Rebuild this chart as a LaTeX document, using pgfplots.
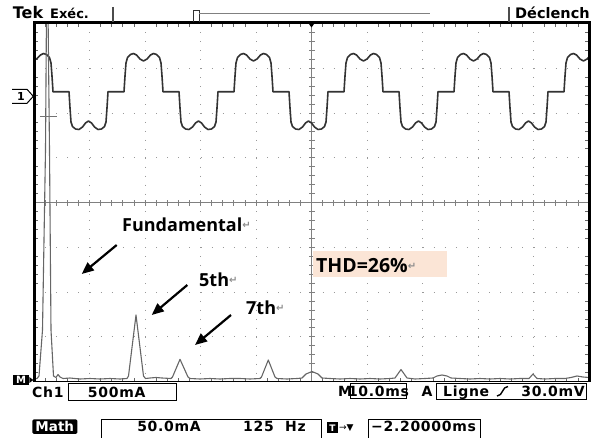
\documentclass[border=0pt]{standalone}
\usepackage{pgfplots}
\pgfplotsset{compat=1.18}
\usepackage{fontspec}
\usetikzlibrary{arrows.meta}
\newfontfamily\scopefont{DejaVu Sans}[LetterSpace=5]
\newfontfamily\tekfont{DejaVu Sans}
\newfontfamily\annfont{Open Sans}
\newfontfamily\symfont{DejaVu Sans}
\definecolor{peach}{HTML}{FBE5D6}
\newcommand{\ret}{{\symfont\fontsize{10}{10}\selectfont\color{black!45}\raisebox{3pt}{↵}}}
\begin{document}
\begin{tikzpicture}
\path[use as bounding box] (0pt,0pt) rectangle (592pt,439pt);
\begin{axis}[
  at={(34pt,57.5pt)}, anchor=south west,
  width=555pt, height=358pt, scale only axis,
  xmin=34, xmax=589, ymin=23.5, ymax=381.5, y dir=reverse,
  xtick={34,89.5,...,589}, ytick={23.5,68.25,...,381.5},
  minor x tick num=4, minor y tick num=4,
  xticklabels={}, yticklabels={},
  major tick length=0pt, minor tick length=4pt, tick align=inside,
  xtick pos=both, ytick pos=both,
  minor tick style={black!60, line width=0.7pt},
  grid=major,
  x grid style={black!40, line width=1pt, dash pattern=on 1pt off 7.95pt},
  y grid style={black!40, line width=1pt, dash pattern=on 1pt off 10.1pt},
  axis line style={draw=none},
]
% centre graticule lines with ticks
\draw[black!50, line width=0.7pt] (axis cs:311.5,23.5) -- (axis cs:311.5,381.5);
\draw[black!50, line width=0.7pt] (axis cs:34,202.5) -- (axis cs:589,202.5);
\draw[black!50, line width=6pt, dash pattern=on 0.7pt off 8.25pt, dash phase=0.35pt] (axis cs:311.5,23.5) -- (axis cs:311.5,381.5);
\draw[black!50, line width=6pt, dash pattern=on 0.7pt off 10.4pt, dash phase=0.35pt] (axis cs:34,202.5) -- (axis cs:589,202.5);
% THD box
\fill[peach] (axis cs:313.3,250.7) rectangle (axis cs:446.7,276.7);
% time-domain current
\addplot[black!80, line width=1.6pt, line join=round] coordinates {
(34,60.5) (37,58.5) (40.5,55) (43.5,53.5) (46.5,54.5) (49.5,57.5) (51,63) (52,76) (53,91.7)
(69,91.7) (70,108) (71,122) (72.5,126.5) (75.5,129) (79,129.5) (82.5,127) (85.5,123) (88.5,121) (91.5,123) (94.5,127) (98,129.5) (101.5,129) (104.5,126.5) (106,122) (107,108) (108,91.7)
(124,91.7) (125,76) (126,63) (127.5,57.5) (130.5,54.5) (133.5,53.5) (136.5,55) (140,59) (143.5,61) (147,59) (150.5,55) (153.5,53.5) (156.5,54.5) (159.5,57.5) (161,63) (162,76) (163,91.7)
(179,91.7) (180,108) (181,122) (182.5,126.5) (185.5,129) (189,129.5) (192.5,127) (195.5,123) (198.5,121) (201.5,123) (204.5,127) (208,129.5) (211.5,129) (214.5,126.5) (216,122) (217,108) (218,91.7)
(234,91.7) (235,76) (236,63) (237.5,57.5) (240.5,54.5) (243.5,53.5) (246.5,55) (250,59) (253.5,61) (257,59) (260.5,55) (263.5,53.5) (266.5,54.5) (269.5,57.5) (271,63) (272,76) (273,91.7)
(289,91.7) (290,108) (291,122) (292.5,126.5) (295.5,129) (299,129.5) (302.5,127) (305.5,123) (308.5,121) (311.5,123) (314.5,127) (318,129.5) (321.5,129) (324.5,126.5) (326,122) (327,108) (328,91.7)
(344,91.7) (345,76) (346,63) (347.5,57.5) (350.5,54.5) (353.5,53.5) (356.5,55) (360,59) (363.5,61) (367,59) (370.5,55) (373.5,53.5) (376.5,54.5) (379.5,57.5) (381,63) (382,76) (383,91.7)
(399,91.7) (400,108) (401,122) (402.5,126.5) (405.5,129) (409,129.5) (412.5,127) (415.5,123) (418.5,121) (421.5,123) (424.5,127) (428,129.5) (431.5,129) (434.5,126.5) (436,122) (437,108) (438,91.7)
(454,91.7) (455,76) (456,63) (457.5,57.5) (460.5,54.5) (463.5,53.5) (466.5,55) (470,59) (473.5,61) (477,59) (480.5,55) (483.5,53.5) (486.5,54.5) (489.5,57.5) (491,63) (492,76) (493,91.7)
(509,91.7) (510,108) (511,122) (512.5,126.5) (515.5,129) (519,129.5) (522.5,127) (525.5,123) (528.5,121) (531.5,123) (534.5,127) (538,129.5) (541.5,129) (544.5,126.5) (546,122) (547,108) (548,91.7)
(564,91.7) (565,76) (566,63) (567.5,57.5) (570.5,54.5) (573.5,53.5) (576.5,55) (580,59) (583.5,61) (587,59) (589,57)
};
% FFT (Math) trace
\addplot[black!60, line width=1.1pt, line join=round] coordinates {
(34,379) (37,378.5) (39,376) (42.5,330) (45.5,150) (46.5,10) (48,10) (49.5,150) (51,330) (53.5,376) (56,377.5) (58,374.5) (60,377) (63,378.5) (70,378) (80,379) (90,378.5) (100,379) (110,378.5) (120,379) (127,378.5) (128.5,376) (136,315) (143.5,376) (145.5,378.5) (150,378) (156,377.5) (162,378) (171,378.5) (172.5,377) (180,359.3) (188,377) (190,378.5) (200,379) (210,378.5) (220,379) (230,378.5) (240,378.5) (250,379) (260,378.5) (261.5,377) (268.3,360) (275,377) (277,378.5) (287,379) (297,378.5) (302,378) (306,374) (312,371.5) (318,374) (322,378) (330,378.5) (340,379) (350,378.5) (360,379) (370,378.5) (380,379) (390,378.5) (395,378) (401,369.5) (407,378) (415,379) (425,378.5) (433,378) (437,376) (442,375) (447,376) (451,378) (460,378.5) (470,379) (480,378.5) (490,379) (500,378.5) (510,379) (520,378.5) (529,378.5) (533,374) (537,378.5) (545,379) (555,378.5) (565,378.5) (571,377.5) (577,376) (583,377) (589,377.5)
};
\draw[black!55, line width=1.2pt] (axis cs:40,116.7) -- (axis cs:57,116.7);
% annotations
\node[anchor=base west, inner sep=0pt, font=\annfont\bfseries\fontsize{18}{20}\selectfont] at (axis cs:122,231.7) {Fundamental\ret};
\node[anchor=base west, inner sep=0pt, font=\annfont\bfseries\fontsize{18}{20}\selectfont] at (axis cs:199,286.7) {5th\ret};
\node[anchor=base west, inner sep=0pt, font=\annfont\bfseries\fontsize{18}{20}\selectfont] at (axis cs:246,314.3) {7th\ret};
\node[anchor=base west, inner sep=0pt, font=\annfont\bfseries\fontsize{19.5}{21}\selectfont] at (axis cs:316,272.7) {THD=26\%\ret};
\draw[line width=2.2pt, -{Triangle[length=12pt,width=10pt]}] (axis cs:116.7,245) -- (axis cs:81.7,274);
\draw[line width=2.2pt, -{Triangle[length=12pt,width=10pt]}] (axis cs:187.3,285) -- (axis cs:151.7,315);
\draw[line width=2.2pt, -{Triangle[length=12pt,width=10pt]}] (axis cs:231,315) -- (axis cs:195,345);
\end{axis}
\begin{scope}[x=1pt,y=1pt]
% frame
\draw[black, line width=3pt] (34,57.5) -- (34,416) -- (589,416) -- (589,57.5);
\draw[black, line width=1.6pt] (32.5,57.5) -- (590.5,57.5);
\fill[black] (307.5,417) -- (315.5,417) -- (311.5,411.5) -- cycle;
% header
\node[anchor=base west, inner sep=0pt, font=\tekfont\bfseries\fontsize{16}{16}\selectfont] at (12.7,420.7) {Tek};
\node[anchor=base west, inner sep=0pt, font=\tekfont\bfseries\fontsize{13}{13}\selectfont] at (50,420.7) {Exéc.};
\draw[black!70, line width=1.2pt] (113,432) -- (113,417);
\draw[black!80, line width=1pt] (193,417) -- (193,428) -- (199,428) -- (199,417);
\draw[black!50, line width=1.3pt] (199,425.7) -- (430,425.7);
\draw[black!70, line width=1.2pt] (509,432) -- (509,417);
\node[anchor=base west, inner sep=0pt, font=\tekfont\bfseries\fontsize{14.5}{14.5}\selectfont] at (515,420.7) {Déclench};
% channel markers
\draw[line width=1pt, fill=white] (12,349.7) -- (27,349.7) -- (33.3,342.7) -- (27,335.7) -- (12,335.7);
\node[font=\tekfont\bfseries\fontsize{11}{11}\selectfont, inner sep=0pt] at (21,342.7) {1};
\fill[black] (12.7,64) rectangle (29.3,54);
\fill[black] (29.3,62) -- (33.3,59) -- (29.3,56) -- cycle;
\node[white, font=\tekfont\bfseries\fontsize{10}{10}\selectfont, inner sep=0pt] at (21,59) {M};
% bottom readouts, row 1
\begin{scope}[every node/.style={inner sep=0pt, font=\scopefont\bfseries\fontsize{14}{14}\selectfont}]
\node[anchor=base west] at (32,41.7) {Ch1};
\draw[line width=1pt] (68.3,55.7) rectangle (176,38.3);
\node[anchor=base] at (116.7,41.7) {500mA};
\node[anchor=base west] at (338,42.3) {M};
\draw[line width=1pt] (350,55.7) rectangle (406,40.7);
\node[anchor=base] at (378.5,42.3) {10.0ms};
\node[anchor=base west] at (421.5,42.3) {A};
\draw[line width=1pt] (436.7,55.7) rectangle (586.7,39);
\node[anchor=base west] at (443,42.3) {Ligne};
\node[anchor=base east] at (585,42.3) {30.0mV};
% row 2
\node[anchor=base] at (169,7.3) {50.0mA};
\node[anchor=base west] at (243,7.3) {125};
\node[anchor=base west] at (285,7.3) {Hz};
\node[anchor=base west] at (371,7.3) {−2.20000ms};
\end{scope}
\draw[line width=1.4pt] (497,43) .. controls (503,43) and (502,52.5) .. (508,52.5);
\fill[black, rounded corners=1.5pt] (32.3,19.7) rectangle (77.3,5);
\node[anchor=base, inner sep=0pt, white, font=\tekfont\bfseries\fontsize{13.5}{13.5}\selectfont] at (54.8,7.6) {Math};
\draw[line width=1pt] (101,1) -- (101,19.3) -- (321.7,19.3) -- (321.7,1);
\draw[line width=1pt] (368,1) -- (368,19.3) -- (480,19.3) -- (480,1);
\fill[black] (327,17) rectangle (338,5.5);
\node[white, inner sep=0pt, font=\tekfont\bfseries\fontsize{9}{9}\selectfont] at (332.5,11.2) {T};
\node[anchor=west, inner sep=0pt, font=\symfont\fontsize{9}{9}\selectfont] at (339,11.2) {→▼};
\end{scope}
\end{tikzpicture}
\end{document}
